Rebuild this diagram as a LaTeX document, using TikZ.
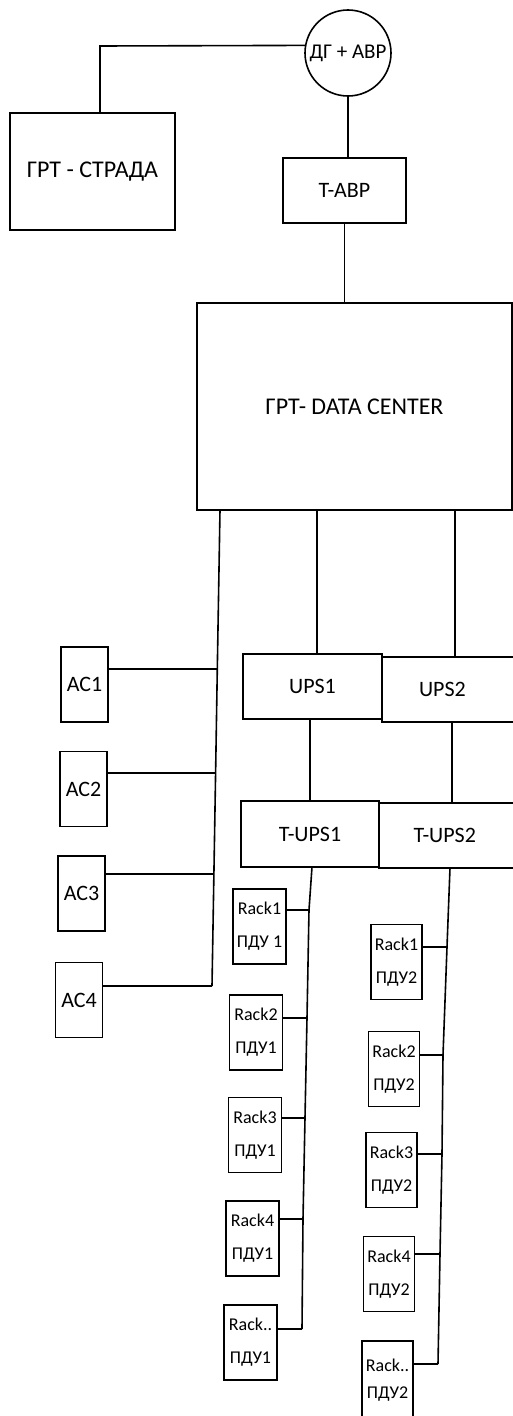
\documentclass[tikz,border=0pt]{standalone}
\usepackage{fontspec}
\setmainfont{Carlito}
\begin{document}
\begin{tikzpicture}[x=1pt,y=-1pt,
  blk/.style={draw, line width=1.6pt, rectangle, inner sep=0pt, font=\fontsize{22}{26}\selectfont},
  bigtxt/.style={font=\fontsize{24}{28}\selectfont},
  acbox/.style={blk, minimum width=47pt, minimum height=75pt},
  rackbox/.style={blk, minimum width=53pt, minimum height=75pt, align=center, font=\fontsize{18}{33}\selectfont},
  wire/.style={line width=1.6pt}]
\useasboundingbox (0,0) rectangle (513,1416);
\clip (0,0) rectangle (513,1416);
\fill[white] (0,0) rectangle (513,1416);

% top part
\node[draw, circle, line width=1.6pt, minimum size=86pt, inner sep=0pt, font=\fontsize{21}{24}\selectfont] (dg) at (348,53) {ДГ + АВР};
\node[blk, bigtxt, minimum width=165pt, minimum height=117pt] (strada) at (92.5,171.5) {ГРТ - СТРАДА};
\node[blk, minimum width=123pt, minimum height=65pt] (tavr) at (344.5,190.5) {T-АВР};
\node[blk, bigtxt, minimum width=315pt, minimum height=207pt] (dc) at (354.5,406.5) {ГРТ- DATA CENTER};

% UPS
\node[blk, minimum width=139pt, minimum height=65pt] (ups1) at (312.5,686.5) {UPS1};
\node[blk, minimum width=158pt, minimum height=65pt, text width=120pt] (ups2) at (461,689.5) {\hspace*{18pt}UPS2};
\node[blk, minimum width=138pt, minimum height=66pt] (tups1) at (310,834) {T-UPS1};
\node[blk, minimum width=161pt, minimum height=65pt, text width=120pt] (tups2) at (459.5,835.5) {\hspace*{14pt}T-UPS2};

% AC units
\node[acbox] (ac1) at (84.5,684.5) {AC1};
\node[acbox] (ac2) at (83.5,789) {AC2};
\node[acbox] (ac3) at (81.5,893.5) {AC3};
\node[acbox] (ac4) at (79,1000) {AC4};

% racks, column 1
\node[rackbox] (r1a) at (259.5,926.5) {Rack1\\ПДУ 1};
\node[rackbox] (r2a) at (256,1032.5) {Rack2\\ПДУ1};
\node[rackbox] (r3a) at (255,1135) {Rack3\\ПДУ1};
\node[rackbox] (r4a) at (252.5,1238.5) {Rack4\\ПДУ1};
\node[rackbox] (r5a) at (250.5,1342.5) {Rack..\\ПДУ1};

% racks, column 2
\node[rackbox, minimum width=51pt] (r1b) at (396.5,962) {Rack1\\ПДУ2};
\node[rackbox, minimum width=51pt] (r2b) at (394,1069) {Rack2\\ПДУ2};
\node[rackbox, minimum width=51pt] (r3b) at (391.5,1170) {Rack3\\ПДУ2};
\node[rackbox, minimum width=51pt] (r4b) at (389,1274) {Rack4\\ПДУ2};
\node[rackbox, minimum width=51pt, minimum height=85pt] (r5b) at (387.5,1383.5) {\raisebox{10pt}{\shortstack{Rack..\\[12pt]ПДУ2}}};

% coordinates
\coordinate (c1) at (100,46);
\coordinate (acb0) at (220,510);
\coordinate (ja1) at (217.3,669);
\coordinate (ja2) at (215.6,773);
\coordinate (ja3) at (213.9,874);
\coordinate (ja4) at (212,986);
\coordinate (u1) at (317,510);
\coordinate (u2) at (455,510);
\coordinate (v2) at (452,722);
\coordinate (lb0) at (312,867);
\coordinate (lj1) at (309,910);
\coordinate (lj2) at (307,1018);
\coordinate (lj3) at (305,1118);
\coordinate (lj4) at (303,1219);
\coordinate (lj5) at (302,1329);
\coordinate (rb0) at (450,868);
\coordinate (rj1) at (447,947);
\coordinate (rj2) at (443,1055);
\coordinate (rj3) at (442,1154);
\coordinate (rj4) at (440,1254);
\coordinate (rj5) at (438,1364);

% connectors
\draw[wire] (dg.170) -- (c1) -- (strada.north -| c1);
\draw[wire] (dg.south) -- (tavr.north -| dg.south);
\draw[wire] (tavr.south) -- (dc.north -| tavr.south);
\draw[wire] (acb0) -- (ja1) -- (ja2) -- (ja3) -- (ja4);
\draw[wire] (ac1.east |- ja1) -- (ja1);
\draw[wire] (ac2.east |- ja2) -- (ja2);
\draw[wire] (ac3.east |- ja3) -- (ja3);
\draw[wire] (ac4.east |- ja4) -- (ja4);
\draw[wire] (u1) -- (ups1.north -| u1);
\draw[wire] (u2) -- (ups2.north -| u2);
\draw[wire] (tups1.north |- ups1.south) -- (tups1.north);
\draw[wire] (v2) -- (tups2.north -| v2);
\draw[wire] (lb0) -- (lj1) -- (lj2) -- (lj3) -- (lj4) -- (lj5);
\draw[wire] (r1a.east |- lj1) -- (lj1);
\draw[wire] (r2a.east |- lj2) -- (lj2);
\draw[wire] (r3a.east |- lj3) -- (lj3);
\draw[wire] (r4a.east |- lj4) -- (lj4);
\draw[wire] (r5a.east |- lj5) -- (lj5);
\draw[wire] (rb0) -- (rj1) -- (rj2) -- (rj3) -- (rj4) -- (rj5);
\draw[wire] (r1b.east |- rj1) -- (rj1);
\draw[wire] (r2b.east |- rj2) -- (rj2);
\draw[wire] (r3b.east |- rj3) -- (rj3);
\draw[wire] (r4b.east |- rj4) -- (rj4);
\draw[wire] (r5b.east |- rj5) -- (rj5);
\end{tikzpicture}
\end{document}
